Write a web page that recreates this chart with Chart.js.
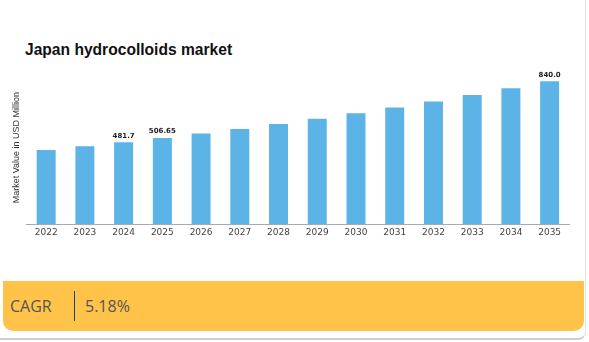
<!DOCTYPE html>
<html>
<head>
<meta charset="utf-8">
<script src="https://cdn.jsdelivr.net/npm/chart.js@4.4.1/dist/chart.umd.min.js"></script>
<style>
    html, body { margin: 0; padding: 0; background: #fff; }
    body { width: 589px; height: 342px; position: relative; overflow: hidden; }
    .card { position: absolute; left: -2px; top: -2px; width: 587px; height: 340px; border-right: 1px solid #e4e4e4; border-bottom: 2px solid #cfcfcf; border-radius: 0 0 8px 0; }
    .title { position: absolute; left: 25px; top: 41px; font: bold 15.6px "Liberation Sans", Arial, sans-serif; line-height: 18px; color: #111; }
    .chart-box { position: absolute; left: 0; top: 0; width: 589px; height: 250px; }
    .cagr { position: absolute; left: 3px; top: 281px; width: 581px; height: 50px; background: #ffc34a; border-radius: 0 0 10px 10px; font: 16px "Open Sans", sans-serif; color: #555; }
    .cagr span { position: absolute; top: 0; line-height: 50px; }
    .cagr .sep { position: absolute; left: 71px; top: 10px; width: 1px; height: 30px; background: #1d3f6e; }
</style>
</head>
<body>
<div class="card"></div>
<div class="title">Japan hydrocolloids market</div>
<div class="chart-box"><canvas id="marketChart"></canvas></div>
<div class="cagr"><span style="left:7px">CAGR</span><div class="sep"></div><span style="left:82px">5.18%</span></div>

<script>
// --- datos ---
const years = ['2022', '2023', '2024', '2025', '2026', '2027', '2028', '2029', '2030', '2031', '2032', '2033', '2034', '2035'];
const marketValues = [436, 458, 481.7, 506.65, 533, 560, 589, 620, 652, 686, 721, 759, 798, 840.0];
const valueLabels = ['', '', '481.7', '506.65', '', '', '', '', '', '', '', '', '', '840.0'];
const yAxisTitle = 'Market Value in USD Million';

// etiquetas encima de algunas barras
const barLabelPlugin = {
    id: 'barLabels',
    afterDatasetsDraw(chart) {
        const ctx = chart.ctx;
        const meta = chart.getDatasetMeta(0);
        meta.data.forEach((bar, i) => {
            if (!valueLabels[i]) return;
            ctx.save();
            ctx.font = 'bold 7px "DejaVu Sans", sans-serif';
            ctx.fillStyle = '#222';
            ctx.textAlign = 'center';
            ctx.textBaseline = 'bottom';
            ctx.fillText(valueLabels[i], bar.x, bar.y - 3);
            ctx.restore();
        });
    }
};

const ctx = document.getElementById('marketChart').getContext('2d');
new Chart(ctx, {
    type: 'bar',
    data: {
        labels: years,
        datasets: [{
            label: 'Market Value',
            data: marketValues,
            backgroundColor: '#5cb3e6',
            borderWidth: 0,
            categoryPercentage: 1,
            barPercentage: 0.49
        }]
    },
    options: {
        responsive: true, maintainAspectRatio: false, animation: false,
        layout: { padding: { left: 11, right: 20, top: 71, bottom: 9 } },
        plugins: { legend: { display: false }, tooltip: { enabled: false }, title: { display: false } },
        scales: {
            x: {
                grid: { display: false, drawTicks: false },
                border: { display: true, color: '#aaa', width: 1 },
                ticks: { font: { family: 'DejaVu Sans', size: 9 }, color: '#444', padding: 3, maxRotation: 0 }
            },
            y: {
                min: 0, max: 900,
                grid: { display: false, drawTicks: false },
                border: { display: false },
                ticks: { display: false },
                title: {
                    display: true, text: yAxisTitle, color: '#333',
                    font: { family: 'Liberation Sans', size: 9 },
                    padding: { top: 0, bottom: 5 }
                }
            }
        }
    },
    plugins: [barLabelPlugin]
});
</script>
</body>
</html>
